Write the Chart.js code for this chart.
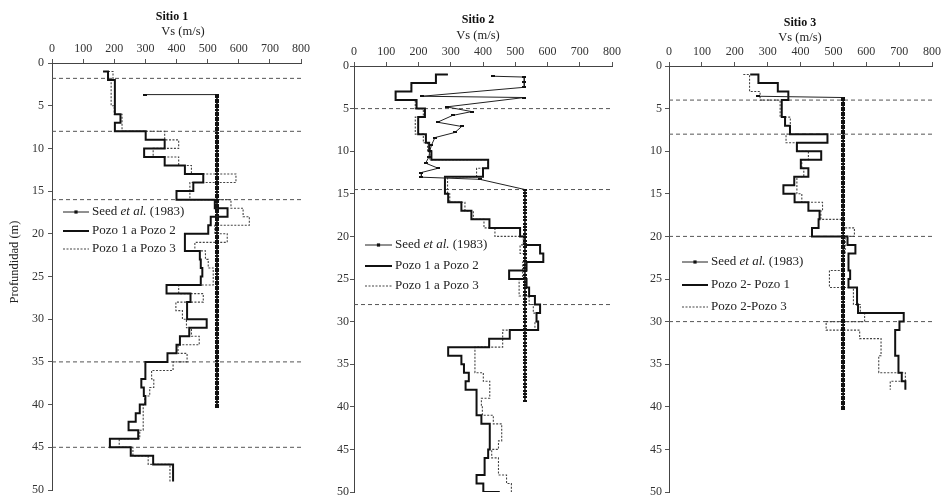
<!DOCTYPE html>
<html>
<head>
<meta charset="utf-8">
<script src="https://cdn.jsdelivr.net/npm/chart.js@4.4.1/dist/chart.umd.min.js"></script>
<style>
  body { margin: 0; background: #fff; }
  #wrap { position: relative; width: 941px; height: 497px; }
  canvas { position: absolute; top: 0; }
</style>
</head>
<body>
<div id="wrap">
  <canvas id="c1" width="320" height="497" style="left:0"></canvas>
  <canvas id="c2" width="310" height="497" style="left:320px"></canvas>
  <canvas id="c3" width="311" height="497" style="left:630px"></canvas>
</div>
<script>
// x axis (Vs, m/s) and y axis (depth, m)
const vsTicks = [0, 100, 200, 300, 400, 500, 600, 700, 800];
const depthTicks = [0, 5, 10, 15, 20, 25, 30, 35, 40, 45, 50];

// Sitio 1 - layer boundaries (m) and Vs of each layer (m/s)
const s1p2Start = 164;
const s1p2Depth = [1, 2, 6, 7, 8, 9, 10, 11, 12, 13, 14, 15, 16, 17, 18, 19, 20, 22, 23, 24, 25, 26, 27, 28, 30, 31, 32, 33, 34, 35, 37, 38, 39, 40, 41, 42, 43, 44, 45, 46, 47, 49];
const s1p2Vs = [180, 202, 220, 202, 301, 362, 296, 362, 427, 486, 454, 400, 523, 564, 510, 502, 427, 475, 478, 483, 478, 368, 445, 434, 497, 441, 411, 400, 371, 300, 287, 295, 300, 282, 269, 246, 277, 186, 253, 325, 389];
const s1p3Start = 180;
const s1p3Depth = [1, 2, 5, 6, 8, 9, 10, 11, 12, 13, 14, 16, 17, 18, 19, 20, 21, 22, 23, 24, 26, 27, 28, 29, 30, 31, 32, 33, 34, 35, 36, 37, 38, 39, 40, 43, 44, 45, 46, 47, 49];
const s1p3Vs = [196, 190, 200, 225, 362, 407, 325, 407, 448, 591, 443, 575, 614, 634, 523, 563, 459, 493, 502, 518, 407, 486, 398, 419, 432, 448, 473, 405, 434, 389, 320, 327, 314, 298, 293, 282, 216, 260, 309, 379];
const s1Layers = [1.8, 8, 16, 35, 45];

// Sitio 2
const s2p2Start = 291;
const s2p2Depth = [1, 2, 3, 4, 5, 6, 8, 9, 10, 11, 12, 13, 15, 16, 17, 18, 19, 20, 21, 22, 23, 24, 25, 26, 27, 28, 29, 30, 31, 32, 33, 34, 35, 36, 37, 38, 41, 42, 45, 46, 48, 49, 50, 50];
const s2p2Vs = [254, 178, 129, 194, 220, 199, 223, 233, 240, 416, 400, 282, 292, 333, 364, 420, 515, 530, 577, 587, 535, 481, 535, 543, 561, 577, 566, 571, 483, 419, 292, 333, 341, 356, 346, 380, 395, 421, 416, 405, 380, 401, 452];
const s2p3Start = 291;
const s2p3Depth = [1, 2, 3, 4, 5, 6, 8, 9, 10, 11, 12, 13, 15, 16, 17, 18, 19, 20, 21, 22, 23, 25, 27, 28, 29, 30, 31, 33, 36, 37, 39, 40, 41, 42, 44, 45, 46, 48, 49, 50];
const s2p3Vs = [254, 178, 129, 190, 215, 190, 215, 228, 235, 416, 380, 290, 297, 344, 370, 403, 437, 525, 515, 533, 523, 512, 543, 556, 566, 561, 461, 375, 401, 421, 395, 398, 432, 458, 448, 427, 448, 473, 488];
const s2Layers = [5, 14.5, 28];

// Sitio 3
const s3p1Start = 247;
const s3p1Depth = [1, 2, 3, 4, 6, 7, 8, 9, 10, 11, 12, 13, 14, 15, 16, 17, 18, 19, 20, 21, 22, 24, 25, 26, 28, 29, 30, 31, 34, 36, 37, 38];
const s3p1Vs = [272, 331, 363, 343, 353, 368, 482, 389, 463, 401, 424, 381, 348, 382, 424, 458, 455, 435, 543, 567, 546, 551, 546, 572, 575, 714, 701, 688, 698, 708, 719];
const s3p3Start = 226;
const s3p3Depth = [1, 3, 4, 6, 8, 9, 10, 11, 12, 13, 15, 16, 17, 18, 19, 20, 22, 24, 26, 28, 29, 30, 31, 32, 34, 36, 37, 38];
const s3p3Vs = [245, 277, 338, 369, 356, 389, 424, 404, 410, 389, 404, 467, 462, 531, 564, 536, 531, 488, 561, 582, 595, 478, 580, 645, 638, 719, 673];
const s3Layers = [4, 8, 20, 30];

// Seed et al. (1983)
const seedVs = 530;
const seed1First = { vs: 298, depth: 3.7 };
const seed3First = { vs: 270, depth: 3.55 };
const seedDepth13 = [3.7, 4.0, 4.3, 4.6, 4.9, 5.2, 5.5, 5.8, 6.1, 6.4, 6.7, 7.0, 7.3, 7.6, 7.9, 8.2, 8.5, 8.8, 9.1, 9.4, 9.7, 10.0, 10.3, 10.6, 10.9, 11.2, 11.5, 11.8, 12.1, 12.4, 12.7, 13.0, 13.3, 13.6, 13.9, 14.2, 14.5, 14.8, 15.1, 15.4, 15.7, 16.0, 16.3, 16.6, 16.9, 17.2, 17.5, 17.8, 18.1, 18.4, 18.7, 19.0, 19.3, 19.6, 19.9, 20.2, 20.5, 20.8, 21.1, 21.4, 21.7, 22.0, 22.3, 22.6, 22.9, 23.2, 23.5, 23.8, 24.1, 24.4, 24.7, 25.0, 25.3, 25.6, 25.9, 26.2, 26.5, 26.8, 27.1, 27.4, 27.7, 28.0, 28.3, 28.6, 28.9, 29.2, 29.5, 29.8, 30.1, 30.4, 30.7, 31.0, 31.3, 31.6, 31.9, 32.2, 32.5, 32.8, 33.1, 33.4, 33.7, 34.0, 34.3, 34.6, 34.9, 35.2, 35.5, 35.8, 36.1, 36.4, 36.7, 37.0, 37.3, 37.6, 37.9, 38.2, 38.5, 38.8, 39.1, 39.4, 39.7, 40.0, 40.3];
const seed2TopVs = [432, 528, 528, 528, 211, 528, 287, 365, 306, 259, 334, 313, 251, 240, 235, 232, 222, 261, 209, 209, 390];
const seed2TopDepth = [1.2, 1.3, 1.9, 2.5, 3.55, 3.7, 4.8, 5.35, 5.8, 6.6, 7.1, 7.8, 8.4, 9.3, 10.0, 10.7, 11.4, 12.0, 12.5, 13.05, 13.3];
const seedDepth2 = [14.5, 14.9, 15.3, 15.7, 16.1, 16.5, 16.9, 17.3, 17.7, 18.1, 18.5, 18.9, 19.3, 19.7, 20.1, 20.5, 20.9, 21.3, 21.7, 22.1, 22.5, 22.9, 23.3, 23.7, 24.1, 24.5, 24.9, 25.3, 25.7, 26.1, 26.5, 26.9, 27.3, 27.7, 28.1, 28.5, 28.9, 29.3, 29.7, 30.1, 30.5, 30.9, 31.3, 31.7, 32.1, 32.5, 32.9, 33.3, 33.7, 34.1, 34.5, 34.9, 35.3, 35.7, 36.1, 36.5, 36.9, 37.3, 37.7, 38.1, 38.5, 38.9, 39.3];

const SERIF = '"Liberation Serif", "Times New Roman", serif';

// layered profile -> stepped polyline
function steps(start, depth, vs) {
  const pts = [{ x: start, y: depth[0] }];
  vs.forEach((v, i) => {
    pts.push({ x: v, y: depth[i] }, { x: v, y: depth[i + 1] });
  });
  return pts;
}

function column(depths) {
  return depths.map(d => ({ x: seedVs, y: d }));
}

// small flat square used as marker, so the dense column reads as dots
const mark = document.createElement('canvas');
mark.width = 4; mark.height = 2;
const mctx = mark.getContext('2d');
mctx.fillStyle = '#111';
mctx.fillRect(0, 0, 4, 2);

const seedStyle = {
  showLine: true, borderColor: '#222', borderWidth: 1,
  pointStyle: mark, pointRadius: 2
};
const solidStyle = { showLine: true, borderColor: '#111', borderWidth: 2, pointRadius: 0 };
const dottedStyle = { showLine: true, borderColor: '#444', borderWidth: 1.1, borderDash: [2, 1.5], pointRadius: 0 };

function layerLines(depths) {
  return depths.map(d => ({
    data: [{ x: 0, y: d }, { x: 800, y: d }],
    showLine: true, borderColor: '#555', borderWidth: 1, borderDash: [4, 3], pointRadius: 0
  }));
}

// titles, legend and y title drawn on top
const decor = {
  id: 'decor',
  afterDraw(chart, args, o) {
    const ctx = chart.ctx;
    ctx.save();
    ctx.fillStyle = '#111';
    ctx.textAlign = 'center';
    ctx.textBaseline = 'middle';
    ctx.font = 'bold 12px ' + SERIF;
    ctx.fillText(o.title, o.titleX, o.titleY);
    ctx.font = '12.5px ' + SERIF;
    ctx.fillStyle = '#222';
    ctx.fillText('Vs (m/s)', o.unitX, o.unitY);
    if (o.yTitle) {
      ctx.save();
      ctx.translate(15, 262);
      ctx.rotate(-Math.PI / 2);
      ctx.fillText(o.yTitle, 0, 0);
      ctx.restore();
    }
    // legend
    o.legend.forEach((item, i) => {
      const y = o.legY[i];
      const x0 = o.legX, x1 = o.legX + o.legW;
      ctx.beginPath();
      ctx.setLineDash(item.dash || []);
      ctx.lineWidth = item.width;
      ctx.strokeStyle = item.color;
      ctx.moveTo(x0, y);
      ctx.lineTo(x1, y);
      ctx.stroke();
      ctx.setLineDash([]);
      if (item.marker) {
        ctx.fillStyle = '#111';
        ctx.fillRect((x0 + x1) / 2 - 1.6, y - 1.6, 3.2, 3.2);
      }
      ctx.fillStyle = '#222';
      ctx.textAlign = 'left';
      let x = x1 + 3;
      item.text.forEach(part => {
        ctx.font = (part.italic ? 'italic ' : '') + '13px ' + SERIF;
        ctx.fillText(part.t, x, y);
        x += ctx.measureText(part.t).width;
      });
    });
    ctx.restore();
  }
};

function axes(yWidth, xHeight, yPad) {
  const font = { family: SERIF, size: 12 };
  const zero = s => { s.paddingLeft = 0; s.paddingRight = 0; s.paddingTop = 0; s.paddingBottom = 0; };
  return {
    x: {
      type: 'linear', position: 'top', min: 0, max: 800,
      afterBuildTicks: s => { s.ticks = vsTicks.map(v => ({ value: v })); },
      ticks: { color: '#333', font, padding: 3, maxRotation: 0, autoSkip: false },
      grid: { display: true, drawOnChartArea: false, drawTicks: true, tickLength: 4, color: '#555' },
      border: { color: '#444', width: 1 },
      afterFit: s => { s.height = xHeight; zero(s); }
    },
    y: {
      type: 'linear', reverse: true, min: 0, max: 50,
      afterBuildTicks: s => { s.ticks = depthTicks.map(v => ({ value: v })); },
      ticks: { color: '#333', font, padding: yPad, autoSkip: false },
      grid: { display: true, drawOnChartArea: false, drawTicks: true, tickLength: 4, color: '#555' },
      border: { color: '#444', width: 1 },
      afterFit: s => { s.width = yWidth; zero(s); }
    }
  };
}

function legendItems(l2, l3) {
  return [
    { marker: true, width: 1, color: '#222', text: [{ t: 'Seed ' }, { t: 'et al.', italic: true }, { t: ' (1983)' }] },
    { width: 2, color: '#111', text: [{ t: l2 }] },
    { width: 1.1, color: '#444', dash: [2, 1.5], text: [{ t: l3 }] }
  ];
}

function makeChart(id, datasets, pad, ax, deco) {
  new Chart(document.getElementById(id), {
    type: 'scatter',
    data: { datasets },
    options: {
      responsive: false, animation: false, devicePixelRatio: 1,
      layout: { padding: pad },
      scales: ax,
      plugins: { legend: { display: false }, tooltip: { enabled: false }, decor: deco }
    },
    plugins: [decor]
  });
}

makeChart('c1', [
  Object.assign({ data: [{ x: seed1First.vs, y: seed1First.depth }].concat(column(seedDepth13)) }, seedStyle),
  Object.assign({ data: steps(s1p2Start, s1p2Depth, s1p2Vs) }, solidStyle),
  Object.assign({ data: steps(s1p3Start, s1p3Depth, s1p3Vs) }, dottedStyle),
  ...layerLines(s1Layers)
], { left: 0, right: 19, top: 0, bottom: 7 }, axes(52, 63, 4), {
  title: 'Sitio 1', titleX: 172, titleY: 17, unitX: 183, unitY: 32,
  yTitle: 'Profundidad (m)',
  legX: 63, legW: 26, legY: [212, 231, 249],
  legend: legendItems('Pozo 1 a Pozo 2', 'Pozo 1 a Pozo 3')
});

makeChart('c2', [
  Object.assign({ data: seed2TopVs.map((v, i) => ({ x: v, y: seed2TopDepth[i] })).concat(column(seedDepth2)) }, seedStyle),
  Object.assign({ data: steps(s2p2Start, s2p2Depth, s2p2Vs) }, solidStyle),
  Object.assign({ data: steps(s2p3Start, s2p3Depth, s2p3Vs) }, dottedStyle),
  ...layerLines(s2Layers)
], { left: 0, right: 18, top: 0, bottom: 5 }, axes(34, 66, 1), {
  title: 'Sitio 2', titleX: 158, titleY: 20, unitX: 158, unitY: 36,
  legX: 45, legW: 27, legY: [245, 266, 286],
  legend: legendItems('Pozo 1 a Pozo 2', 'Pozo 1 a Pozo 3')
});

makeChart('c3', [
  Object.assign({ data: [{ x: seed3First.vs, y: seed3First.depth }].concat(column(seedDepth13)) }, seedStyle),
  Object.assign({ data: steps(s3p1Start, s3p1Depth, s3p1Vs) }, solidStyle),
  Object.assign({ data: steps(s3p3Start, s3p3Depth, s3p3Vs) }, dottedStyle),
  ...layerLines(s3Layers)
], { left: 0, right: 9, top: 0, bottom: 5 }, axes(39, 66, 3), {
  title: 'Sitio 3', titleX: 170, titleY: 23, unitX: 170, unitY: 38,
  legX: 52, legW: 26, legY: [262, 285, 307],
  legend: legendItems('Pozo 2- Pozo 1', 'Pozo 2-Pozo 3')
});
</script>
</body>
</html>
